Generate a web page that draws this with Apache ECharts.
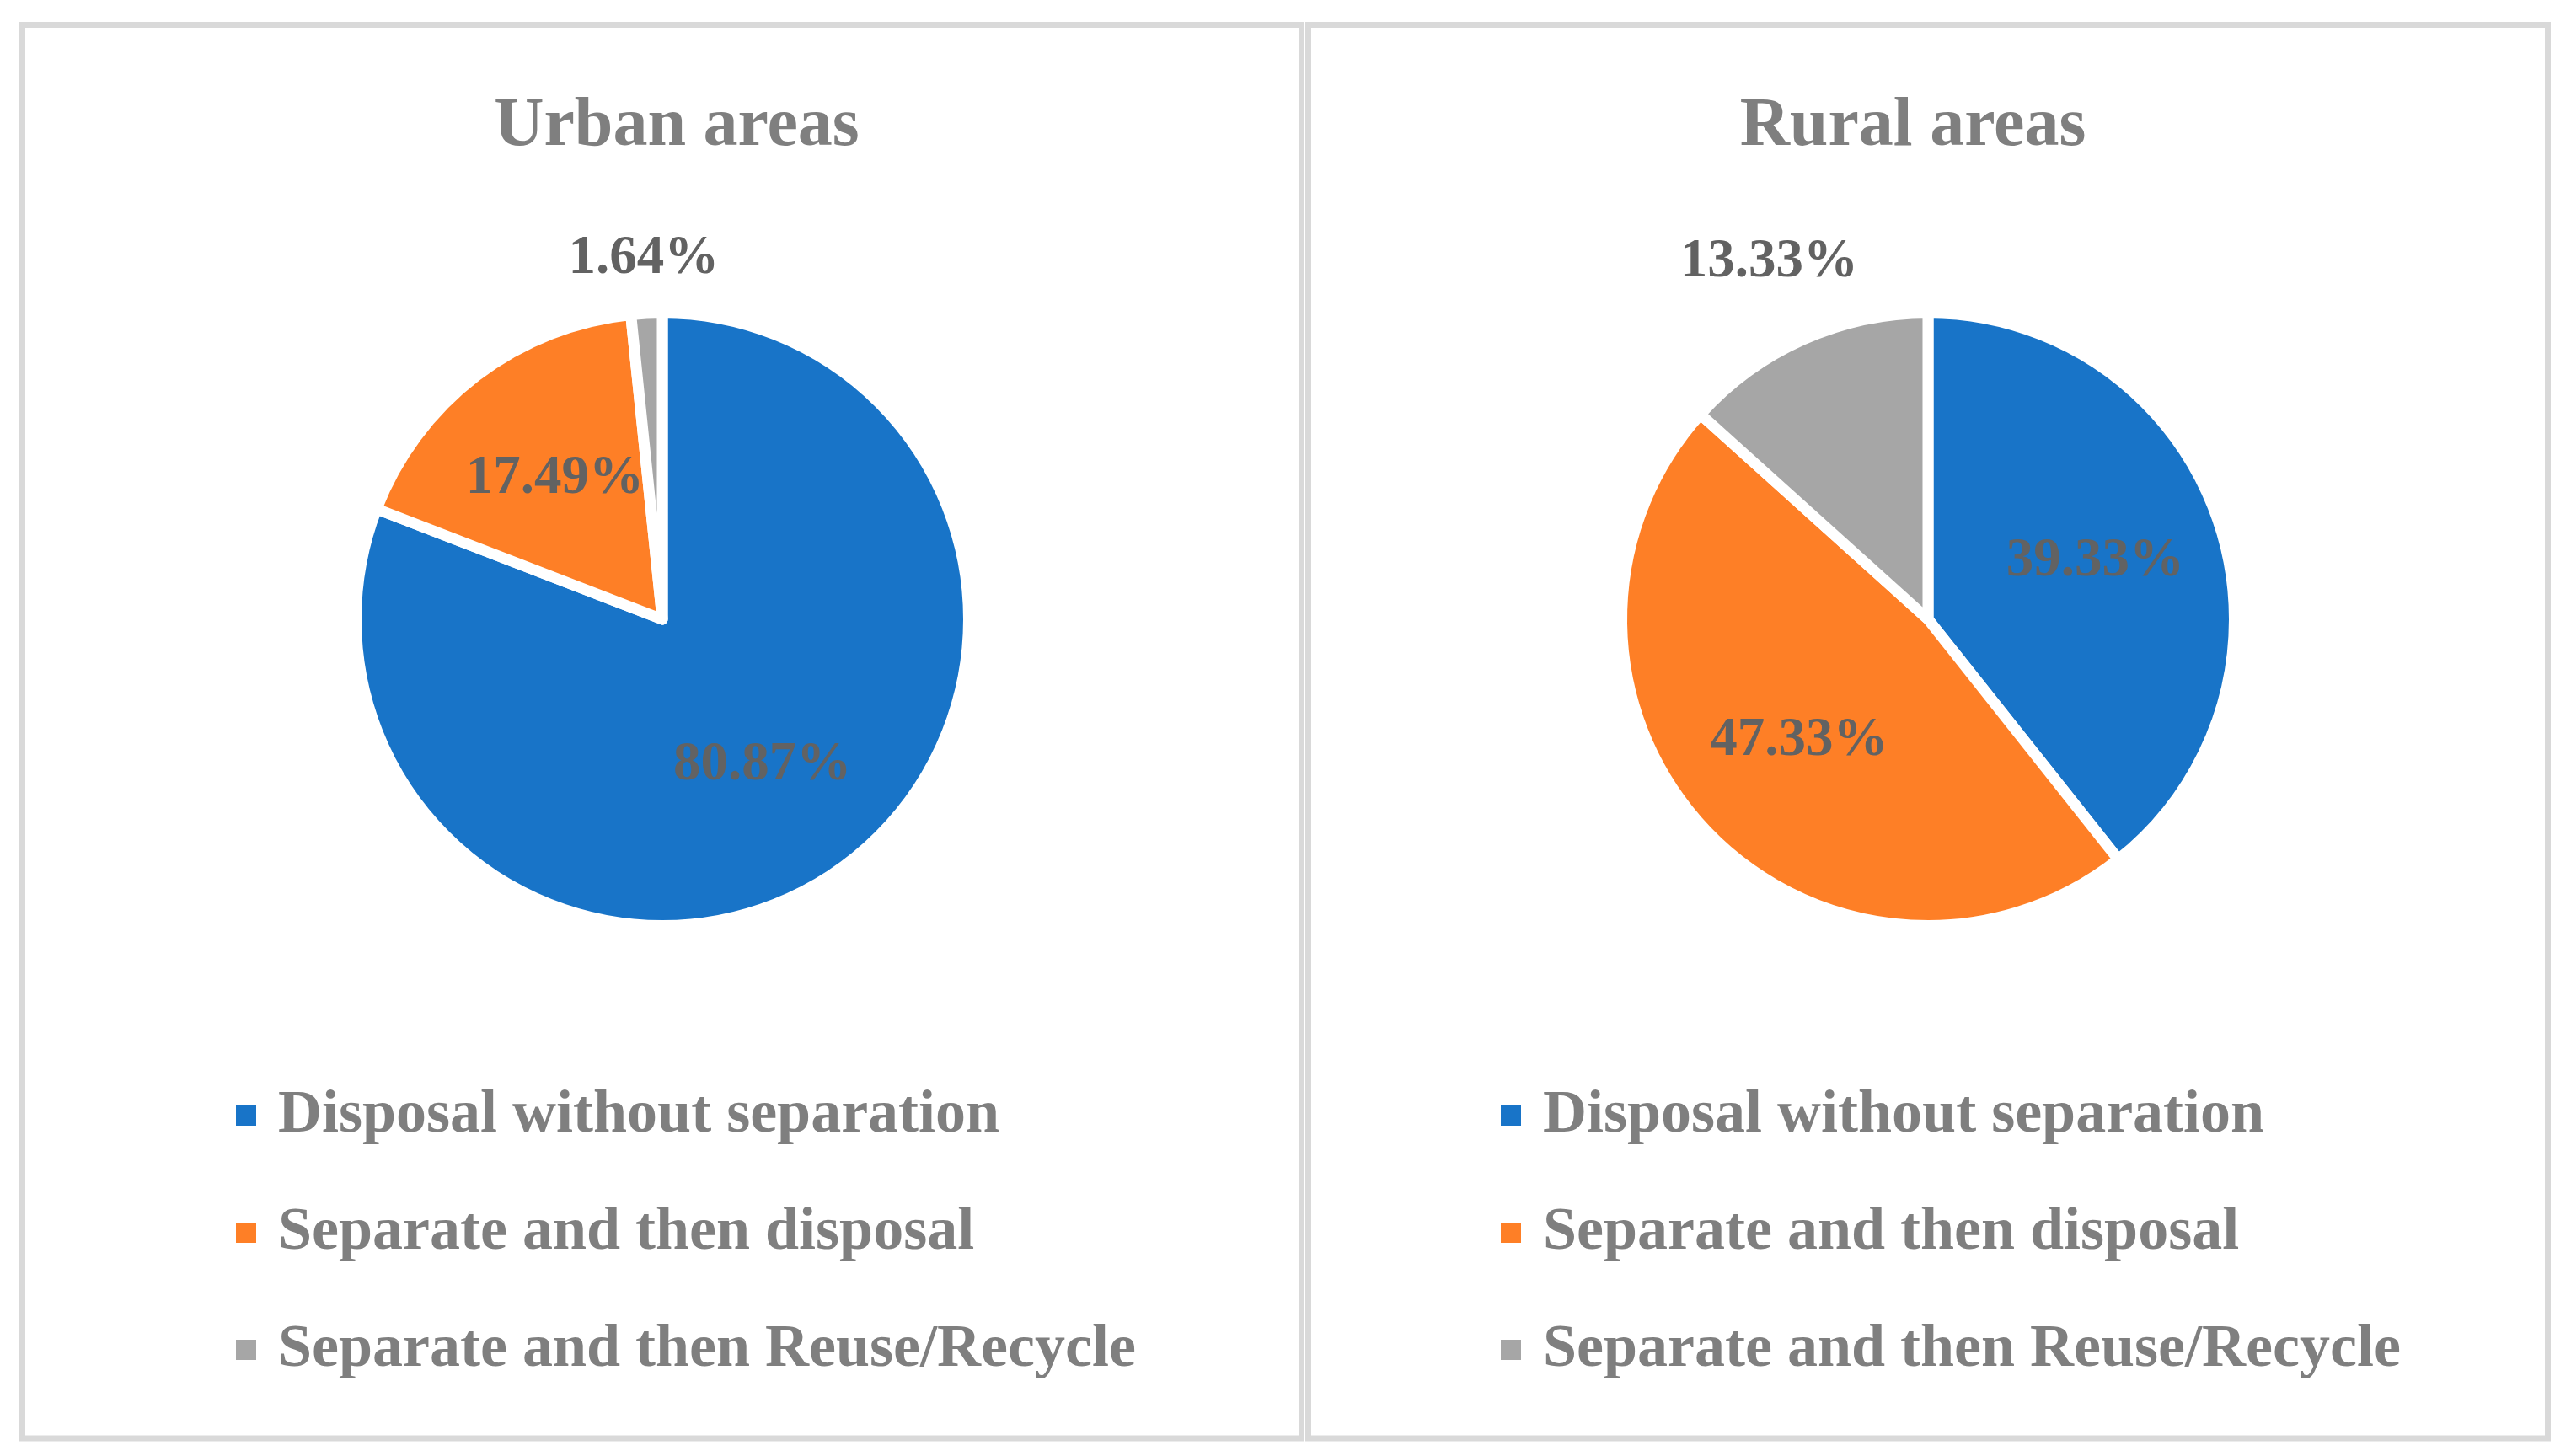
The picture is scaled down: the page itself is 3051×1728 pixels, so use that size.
<!DOCTYPE html>
<html>
	<head>
		<meta charset="utf-8">
		<title>Waste disposal</title>
		<script src="https://cdn.jsdelivr.net/npm/echarts@6/dist/echarts.min.js"></script>
		<style>
			html, body { margin: 0; padding: 0; background: #ffffff; }
			#chart { width: 3051px; height: 1728px; }
		</style>
	</head>

	<body>
		<div id="chart"></div>
		<script type="text/javascript">
			// 数据
			var categories = ['Disposal without separation', 'Separate and then disposal', 'Separate and then Reuse/Recycle'];
			var urbanValues = [80.87, 17.49, 1.64];
			var ruralValues = [39.33, 47.33, 13.33];
			var panelTitles = ['Urban areas', 'Rural areas'];

			var colors = ['#1874C8', '#FE7F26', '#A6A6A6'];
			var fontName = 'Liberation Serif';

			// 两个饼图的位置
			var centers = [[786, 735], [2288, 735]];
			var visibleR = 357;
			var borderW = 13;

			function makeLabelLayout(idx, values) {
				return function(params) {
					var c = centers[idx];
					var r = params.labelRect;
					var lx = r.x + r.width / 2;
					var ly = r.y + r.height / 2;
					var dx = lx - c[0];
					var dy = ly - c[1];
					var len = Math.sqrt(dx * dx + dy * dy) || 1;
					dx /= len;
					dy /= len;
					var d = 210;
					if (values[params.dataIndex] < 15) {
						// 小扇区放在外侧
						d = visibleR + 34 + Math.abs(dy) * r.height / 2 + Math.abs(dx) * r.width / 2;
					}
					return {
						x: c[0] + dx * d,
						y: c[1] + dy * d,
						align: 'center',
						verticalAlign: 'middle'
					};
				};
			}

			function makeSeries(idx, values) {
				var data = [];
				for (var i = 0; i < categories.length; i++) {
					data.push({ name: categories[i], value: values[i] });
				}
				return {
					type: 'pie',
					center: centers[idx],
					radius: [0, visibleR + borderW / 2],
					startAngle: 90,
					clockwise: true,
					avoidLabelOverlap: false,
					data: data,
					itemStyle: {
						borderColor: '#ffffff',
						borderWidth: borderW
					},
					label: {
						show: true,
						position: 'inside',
						formatter: function(p) {
							return p.value.toFixed(2) + '%';
						},
						fontFamily: fontName,
						fontWeight: 'bold',
						fontSize: 65,
						lineHeight: 65,
						color: '#626262'
					},
					labelLine: { show: false },
					labelLayout: makeLabelLayout(idx, values),
					emphasis: { disabled: true }
				};
			}

			function makeLegend(left) {
				return {
					data: categories,
					orient: 'vertical',
					left: left,
					top: 1288,
					padding: 0,
					itemWidth: 26,
					itemHeight: 26,
					itemGap: 67,
					icon: 'rect',
					selectedMode: false,
					textStyle: {
						fontFamily: fontName,
						fontWeight: 'bold',
						fontSize: 72,
						lineHeight: 72,
						color: '#7f7f7f',
						padding: [0, 0, 0, 20]
					}
				};
			}

			var myChart = echarts.init(document.getElementById('chart'));
			var option = {
				backgroundColor: '#ffffff',
				color: colors,
				animation: false,
				graphic: [
					{
						type: 'rect',
						shape: { x: 26.5, y: 29.5, width: 1518, height: 1677.5 },
						style: { fill: 'none', stroke: '#d9d9d9', lineWidth: 7 }
					},
					{
						type: 'rect',
						shape: { x: 1552.5, y: 29.5, width: 1471, height: 1677.5 },
						style: { fill: 'none', stroke: '#d9d9d9', lineWidth: 7 }
					},
					{
						type: 'text',
						x: 803,
						y: 151,
						style: {
							text: panelTitles[0],
							fontFamily: fontName,
							fontWeight: 'bold',
							fontSize: 82,
							fill: '#7f7f7f',
							align: 'center',
							verticalAlign: 'middle'
						}
					},
					{
						type: 'text',
						x: 2270,
						y: 151,
						style: {
							text: panelTitles[1],
							fontFamily: fontName,
							fontWeight: 'bold',
							fontSize: 82,
							fill: '#7f7f7f',
							align: 'center',
							verticalAlign: 'middle'
						}
					}
				],
				legend: [makeLegend(278), makeLegend(1779)],
				series: [makeSeries(0, urbanValues), makeSeries(1, ruralValues)]
			};
			myChart.setOption(option);
		</script>
	</body>
</html>
